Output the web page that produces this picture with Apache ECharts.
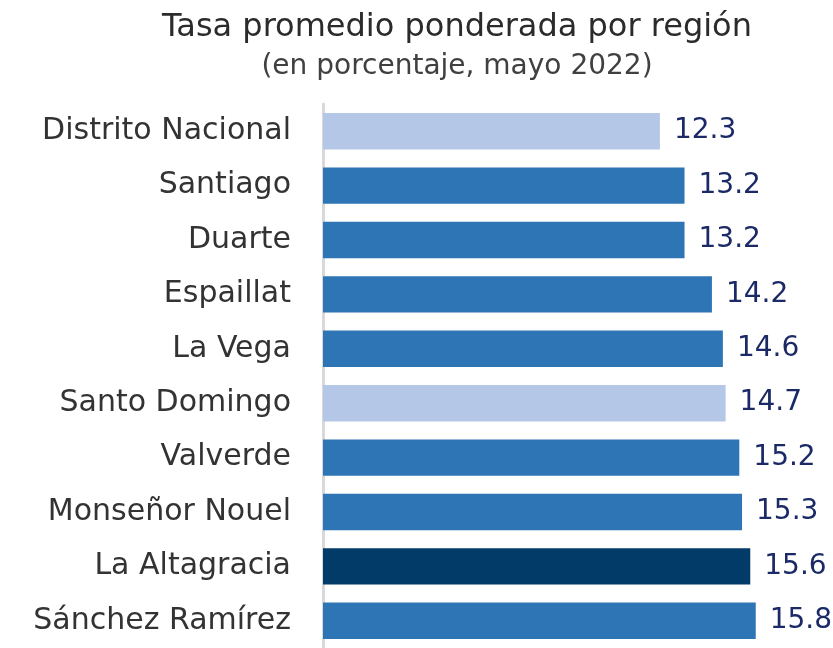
<!DOCTYPE html>
<html>
<head>
    <meta charset="utf-8">
    <title>Tasa promedio ponderada por región</title>
    <script src="https://cdn.jsdelivr.net/npm/echarts@6/dist/echarts.min.js"></script>
    <style>
        html, body { margin: 0; padding: 0; background: #fff; }
        #chart { width: 833px; height: 648px; }
    </style>
</head>
<body>
<div id="chart"></div>
<script type="text/javascript">
    // datos (de arriba hacia abajo)
    var regiones = ['Distrito Nacional', 'Santiago', 'Duarte', 'Espaillat', 'La Vega',
        'Santo Domingo', 'Valverde', 'Monseñor Nouel', 'La Altagracia', 'Sánchez Ramírez'];
    var tasas = [12.3, 13.2, 13.2, 14.2, 14.6, 14.7, 15.2, 15.3, 15.6, 15.8];
    // tipo de barra: 0 = claro, 1 = medio, 2 = oscuro
    var tipos = [0, 1, 1, 1, 1, 0, 1, 1, 2, 1];
    var colores = ['#b4c7e7', '#2e75b6', '#023a68'];

    var myChart = echarts.init(document.getElementById('chart'));

    var datos = tasas.map(function (v, i) {
        return { value: v, itemStyle: { color: colores[tipos[i]] } };
    });

    var fuente = 'DejaVu Sans';

    var option = {
        animation: false,
        title: {
            text: 'Tasa promedio ponderada por región',
            subtext: '(en porcentaje, mayo 2022)',
            left: 452,
            textAlign: 'center',
            top: 7,
            itemGap: 9,
            textStyle: { fontFamily: fuente, fontSize: 32, fontWeight: 'normal', color: '#2b2b2b' },
            subtextStyle: { fontFamily: fuente, fontSize: 28, color: '#404040' }
        },
        grid: { left: 323, top: 104, width: 493, height: 550 },
        xAxis: {
            type: 'value',
            min: 0,
            max: 18,
            show: false
        },
        yAxis: {
            type: 'category',
            inverse: true,
            data: regiones,
            axisLine: { show: true, lineStyle: { color: '#d9d9d9', width: 3 } },
            axisTick: { show: false },
            axisLabel: {
                margin: 32,
                padding: [4, 0, 0, 0],
                fontFamily: fuente,
                fontSize: 30,
                color: '#333333'
            }
        },
        series: [{
            type: 'bar',
            data: datos,
            barCategoryGap: '33%',
            label: {
                show: true,
                position: 'right',
                distance: 14,
                padding: [4, 0, 0, 0],
                fontFamily: fuente,
                fontSize: 28,
                color: '#1b2a66',
                formatter: function (p) { return p.value.toFixed(1); }
            }
        }]
    };
    myChart.setOption(option);
</script>
</body>
</html>
